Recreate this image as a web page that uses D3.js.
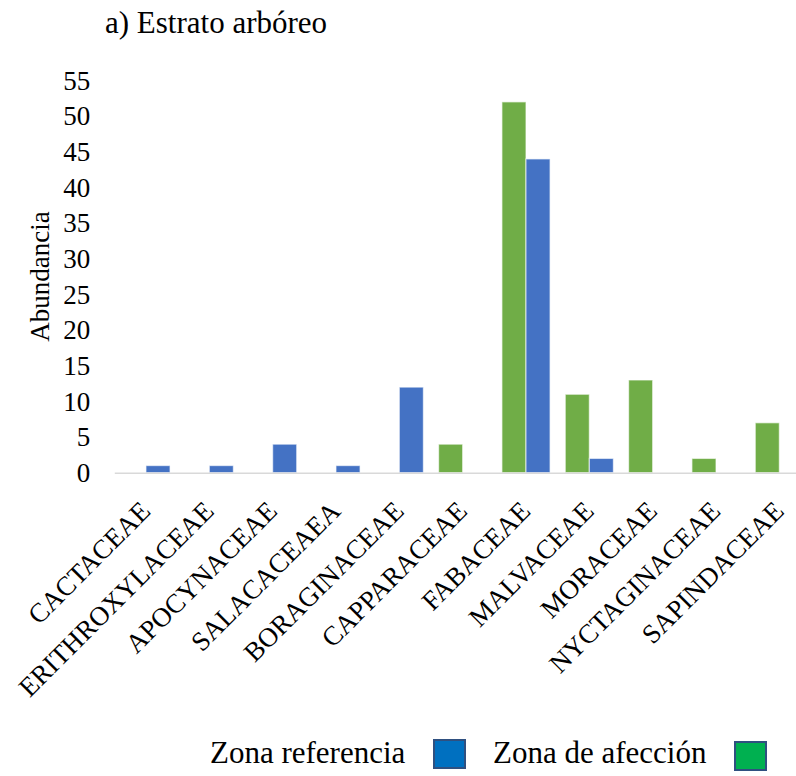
<!DOCTYPE html>
<html>
<head>
<meta charset="utf-8">
<script src="https://cdn.jsdelivr.net/npm/d3@7/dist/d3.min.js"></script>
<style>
  html, body { margin: 0; padding: 0; background: #fff; }
  svg { display: block; }
  text { font-family: "Liberation Serif", "Times New Roman", serif; fill: #000; }
</style>
</head>
<body>
<svg id="chart" width="796" height="776"></svg>
<script>
// Families of the tree stratum
const categories = [
  "CACTACEAE", "ERITHROXYLACEAE", "APOCYNACEAE", "SALACACEAEA", "BORAGINACEAE",
  "CAPPARACEAE", "FABACEAE", "MALVACEAE", "MORACEAE", "NYCTAGINACEAE", "SAPINDACEAE"
];
// Abundance per family in each zone
const zonaAfeccion   = [0, 0, 0, 0, 0, 4, 52, 11, 13, 2, 7];
const zonaReferencia = [1, 1, 4, 1, 12, 0, 44, 2, 0, 0, 0];
const seriesKeys   = ["afeccion", "referencia"];
const seriesLabels = ["Zona de afección", "Zona referencia"];
const yTicks = [0, 5, 10, 15, 20, 25, 30, 35, 40, 45, 50, 55];

const svg = d3.select("#chart");
const plot = { left: 114.3, right: 811, top: 80.5, bottom: 472.7 };

const x = d3.scaleBand()
  .domain(categories)
  .range([plot.left, plot.right])
  .paddingInner(0.24)
  .paddingOuter(0.12);

const xs = d3.scaleBand()
  .domain(seriesKeys)
  .range([0, x.bandwidth()]);

const y = d3.scaleLinear()
  .domain([0, 55])
  .range([plot.bottom, plot.top]);

const color = d3.scaleOrdinal()
  .domain(seriesKeys)
  .range(["#70AD47", "#4472C4"]);

// Title
svg.append("text")
  .attr("x", 105).attr("y", 33)
  .attr("font-size", 31)
  .text("a) Estrato arbóreo");

// Y axis (labels only)
const yAxis = svg.append("g")
  .attr("transform", `translate(${plot.left},0)`)
  .call(d3.axisLeft(y).tickValues(yTicks).tickSize(0).tickPadding(24));
yAxis.select(".domain").remove();
yAxis.selectAll("text")
  .attr("font-size", 27)
  .attr("font-family", "\"Liberation Serif\", \"Times New Roman\", serif")
  .attr("fill", "#000");

// Y axis title
svg.append("text")
  .attr("transform", `translate(49,${(plot.top + plot.bottom) / 2}) rotate(-90)`)
  .attr("text-anchor", "middle")
  .attr("font-size", 27)
  .text("Abundancia");

// Bars
const rows = categories.map((c, i) => ({
  cat: c,
  values: [
    { key: "afeccion", value: zonaAfeccion[i] },
    { key: "referencia", value: zonaReferencia[i] }
  ]
}));

svg.append("g")
  .selectAll("g")
  .data(rows)
  .join("g")
  .attr("transform", d => `translate(${x(d.cat)},0)`)
  .selectAll("rect")
  .data(d => d.values.filter(v => v.value > 0))
  .join("rect")
  .attr("x", d => xs(d.key))
  .attr("width", xs.bandwidth())
  .attr("y", d => y(d.value))
  .attr("height", d => y(0) - y(d.value))
  .attr("fill", d => color(d.key))
  .attr("stroke", "#ffffff")
  .attr("stroke-opacity", 0.6)
  .attr("stroke-width", 1.2);

// Baseline
const xAxis = svg.append("g")
  .attr("transform", `translate(0,${y(0)})`)
  .call(d3.axisBottom(x).tickSize(0).tickFormat(""));
xAxis.select(".domain")
  .attr("stroke", "#d9d9d9")
  .attr("stroke-width", 1.6);

// Category labels, rotated
svg.append("g")
  .selectAll("text")
  .data(categories)
  .join("text")
  .attr("transform", d => `translate(${x(d) + x.bandwidth() / 2 + 6},${plot.bottom + 40}) rotate(-45)`)
  .attr("text-anchor", "end")
  .attr("font-size", 27)
  .text(d => d);

// Legend
const legend = [
  { key: "referencia", label: seriesLabels[1], tx: 210, bx: 434, by: 740, fill: "#0070C0" },
  { key: "afeccion",   label: seriesLabels[0], tx: 493, bx: 735, by: 742, fill: "#00B050" }
];
const lg = svg.append("g");
lg.selectAll("text")
  .data(legend)
  .join("text")
  .attr("x", d => d.tx).attr("y", 763)
  .attr("font-size", 31)
  .text(d => d.label);
lg.selectAll("rect")
  .data(legend)
  .join("rect")
  .attr("x", d => d.bx).attr("y", d => d.by)
  .attr("width", 31).attr("height", 28)
  .attr("fill", d => d.fill)
  .attr("stroke", "#2F5080")
  .attr("stroke-width", 2);
</script>
</body>
</html>
